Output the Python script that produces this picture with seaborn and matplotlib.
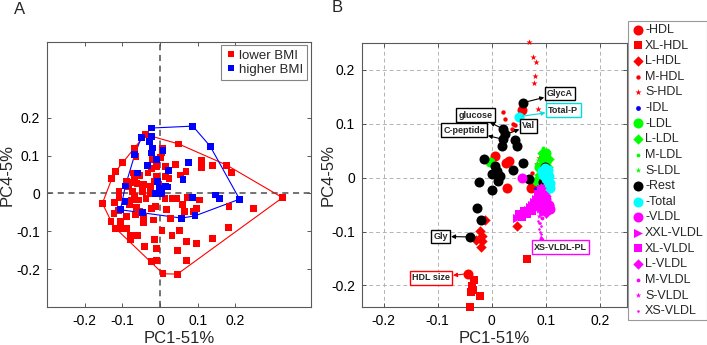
import numpy as np
import pandas as pd
import matplotlib
matplotlib.use("Agg")
import matplotlib.pyplot as plt
import seaborn as sns

# === Panel A: PCA scores, lower vs higher BMI ===
low_x = [-0.039, 0.049, -0.067, -0.064, -0.099, -0.118, -0.128, 0.007, 0.005, -0.020,
         -0.010, 0.001, 0.014, 0.042, 0.055, 0.069, 0.110, 0.111, 0.139, 0.177,
         0.189, 0.325, 0.249, 0.183, 0.181, 0.140, 0.096, 0.070, 0.046, 0.070,
         0.046, 0.008, -0.009, -0.022, -0.009, -0.041, -0.015, 0.005, 0.032, 0.052,
         -0.078, -0.078, -0.060, -0.090, -0.104, -0.118, -0.130, -0.106, -0.122, -0.110,
         -0.153, -0.121, -0.109, -0.109, -0.084, -0.089, -0.074, -0.071, -0.067, -0.054,
         -0.061, -0.043, -0.073, -0.067, -0.075, -0.080, -0.058, -0.063, -0.037, -0.046,
         -0.025, -0.025, -0.016, -0.010, -0.023, -0.032, -0.054, -0.065, -0.044, -0.043,
         -0.018, -0.023, -0.011, 0.013, 0.017, 0.027, 0.032, 0.045, 0.059, 0.066,
         0.089, 0.072, 0.085, 0.104, 0.096, -0.003, 0.014, -0.048, -0.088, 0.024]
low_y = [0.156, 0.131, 0.120, 0.098, 0.081, 0.058, 0.039, 0.120, 0.109, 0.089,
         0.072, 0.095, 0.045, 0.076, 0.049, 0.058, 0.088, 0.069, 0.075, 0.075,
         0.055, -0.011, -0.040, -0.035, -0.090, -0.118, -0.132, -0.127, -0.150, -0.176,
         -0.213, -0.212, -0.176, -0.180, -0.145, -0.139, -0.121, -0.098, -0.112, -0.098,
         -0.123, -0.112, -0.112, -0.092, -0.092, -0.092, -0.073, -0.074, -0.052, -0.044,
         -0.026, -0.023, -0.012, 0.005, 0.019, 0.032, 0.029, 0.054, 0.040, 0.048,
         0.026, 0.023, 0.006, -0.008, -0.017, -0.030, -0.017, -0.036, -0.014, 0.005,
         0.001, 0.019, 0.031, 0.044, 0.067, 0.054, -0.048, -0.057, -0.061, -0.077,
         -0.070, -0.039, -0.035, -0.013, -0.042, -0.065, -0.014, -0.014, -0.030, -0.048,
         -0.048, -0.010, -0.010, -0.017, -0.039, 0.024, 0.072, 0.012, -0.060, 0.040]

high_x = [-0.022, 0.087, 0.133, -0.050, -0.023, -0.029, -0.021, -0.023, 0.008, -0.067,
          -0.010, -0.034, 0.075, -0.060, 0.022, 0.061, -0.092, -0.006, -0.003, 0.014,
          0.021, -0.011, 0.003, -0.093, -0.105, -0.046, 0.057, 0.093, 0.087, 0.148,
          0.157, 0.211]
high_y = [0.173, 0.178, 0.125, 0.147, 0.151, 0.138, 0.120, 0.107, 0.113, 0.103,
          0.089, 0.073, 0.082, 0.054, 0.060, 0.036, 0.020, 0.032, 0.014, 0.019,
          0.017, -0.001, 0.001, -0.021, -0.043, -0.050, -0.065, -0.059, -0.011, -0.004,
          -0.013, -0.015]

bmi_labels = ["lower BMI", "higher BMI"]
bmi_colors = ["#FF0000", "#0000FF"]

# === Panel B: loadings, one entry per lipoprotein class ===
groups = [
    # label, marker, color, size, x, y
    ("-HDL", "o", "#FF0000", 52,
     [0.056, 0.006, 0.031, 0.027, 0.028, 0.076, -0.044, 0.072],
     [0.126, 0.040, 0.031, 0.028, -0.019, -0.014, -0.178, -0.020]),
    ("XL-HDL", "s", "#FF0000", 36,
     [0.065, -0.033, -0.036, -0.039, -0.022, -0.040, -0.035],
     [-0.151, -0.189, -0.201, -0.213, -0.219, -0.239, -0.208]),
    ("L-HDL", "D", "#FF0000", 28,
     [-0.012, -0.022, -0.018, -0.029, -0.018, -0.020, 0.047],
     [-0.078, -0.099, -0.108, -0.115, -0.117, -0.128, -0.089]),
    ("M-HDL", ".", "#FF0000", 40,
     [0.021, 0.025, 0.039, 0.043, 0.037, 0.074, 0.073],
     [0.121, 0.108, 0.099, 0.097, 0.090, 0.009, -0.018]),
    ("S-HDL", "*", "#FF0000", 22,
     [0.069, 0.076, 0.082, 0.080, 0.077, 0.086, 0.083, 0.087],
     [0.252, 0.224, 0.214, 0.188, 0.175, 0.128, 0.025, 0.037]),
    ("-IDL", "o", "#0000FF", 12,
     [0.082, 0.085, 0.100],
     [-0.022, -0.025, -0.010]),
    ("-LDL", "o", "#00FF00", 52,
     [-0.003, 0.083, 0.088, 0.095, 0.100],
     [0.029, -0.006, 0.020, 0.035, 0.045]),
    ("L-LDL", "D", "#00FF00", 28,
     [0.092, 0.098, 0.100, 0.095, 0.103, 0.090, 0.097, 0.105, 0.088],
     [0.045, 0.040, 0.030, 0.025, 0.020, 0.015, 0.008, 0.035, 0.005]),
    ("M-LDL", ".", "#00FF00", 30,
     [0.095, 0.098, 0.100, 0.093, 0.102, 0.090, 0.085],
     [0.055, 0.050, 0.052, 0.040, 0.045, 0.030, 0.020]),
    ("S-LDL", "*", "#00FF00", 18,
     [0.082, 0.086, 0.090, 0.095, 0.100, 0.105],
     [0.025, 0.032, 0.010, 0.000, 0.048, 0.028]),
    ("-Rest", "o", "#000000", 52,
     [0.058, 0.021, 0.025, 0.021, 0.042, 0.046, 0.018, -0.015, 0.006, 0.009,
      0.058, 0.040, 0.001, 0.015, 0.012, -0.023, 0.000, -0.028, -0.020, -0.040,
      0.098, 0.095, 0.069],
     [0.139, 0.090, 0.080, 0.071, 0.070, 0.059, 0.059, 0.034, 0.022, 0.012,
      0.028, 0.015, 0.006, 0.003, -0.006, -0.009, -0.023, -0.056, -0.079, -0.110,
      0.019, -0.009, -0.003]),
    ("-Total", "o", "#00FFFF", 52,
     [0.051, 0.098, 0.102, 0.105, 0.095, 0.100, 0.107, 0.100, 0.098, 0.103, 0.093, 0.108],
     [0.113, 0.018, 0.010, 0.003, 0.005, -0.002, -0.010, -0.020, -0.030, 0.015, 0.012, -0.020]),
    ("-VLDL", "o", "#FF00FF", 52,
     [0.055, 0.100, 0.105, 0.108, 0.102, 0.098],
     [0.000, -0.040, -0.050, -0.058, -0.060, -0.050]),
    ("XXL-VLDL", ">", "#FF00FF", 42,
     [0.047, 0.052, 0.057, 0.062, 0.066, 0.070, 0.074, 0.078, 0.082],
     [-0.075, -0.070, -0.068, -0.063, -0.060, -0.055, -0.050, -0.045, -0.040]),
    ("XL-VLDL", "s", "#FF00FF", 36,
     [0.050, 0.055, 0.060, 0.065, 0.070, 0.075, 0.080, 0.085, 0.090, 0.095, 0.100, 0.085, 0.090, 0.095],
     [-0.068, -0.073, -0.062, -0.068, -0.058, -0.062, -0.050, -0.055, -0.035, -0.045, -0.040, -0.030, -0.022, -0.060]),
    ("L-VLDL", "D", "#FF00FF", 28,
     [0.090, 0.095, 0.100, 0.105, 0.088, 0.095, 0.100],
     [-0.020, -0.028, -0.035, -0.050, -0.045, -0.060, -0.065]),
    ("M-VLDL", ".", "#FF00FF", 30,
     [0.085, 0.088, 0.090, 0.080, 0.092],
     [-0.030, -0.050, -0.068, -0.040, -0.075]),
    ("S-VLDL", "*", "#FF00FF", 18,
     [0.082, 0.086, 0.092, 0.088],
     [-0.035, -0.062, -0.052, -0.072]),
    ("XS-VLDL", ".", "#FF00FF", 14,
     [0.086, 0.087, 0.089, 0.090, 0.088, 0.089, 0.091, 0.090],
     [-0.080, -0.085, -0.084, -0.090, -0.095, -0.100, -0.105, -0.115]),
]

# label, point, box centre, colour
notes = [
    ("GlycA", (0.058, 0.139), (0.126, 0.156), "black"),
    ("Total-P", (0.051, 0.113), (0.132, 0.125), "#00DDDD"),
    ("glucose", (0.021, 0.090), (-0.030, 0.116), "black"),
    ("C-peptide", (0.021, 0.071), (-0.051, 0.088), "black"),
    ("Val", (0.026, 0.080), (0.068, 0.096), "black"),
    ("Gly", (-0.040, -0.110), (-0.094, -0.109), "black"),
    ("XS-VLDL-PL", (0.090, -0.112), (0.127, -0.129), "#FF00FF"),
    ("HDL size", (-0.044, -0.178), (-0.112, -0.186), "#FF0000"),
]

tick_vals = [-0.2, -0.1, 0, 0.1, 0.2]
tick_labels = ["-0.2", "-0.1", "0", "0.1", "0.2"]

# === Style ===
sns.set_style("ticks")
plt.rcParams["font.family"] = ["Liberation Sans", "DejaVu Sans"]
plt.rcParams["axes.unicode_minus"] = False

fig = plt.figure(figsize=(7.07, 3.45), dpi=100)
axA = fig.add_axes([0.0665, 0.110, 0.373, 0.768])
axB = fig.add_axes([0.512, 0.110, 0.375, 0.766])


def hull(xs, ys):
    pts = sorted(set(zip(xs, ys)))
    def cross(o, a, b):
        return (a[0] - o[0]) * (b[1] - o[1]) - (a[1] - o[1]) * (b[0] - o[0])
    lower, upper = [], []
    for p in pts:
        while len(lower) >= 2 and cross(lower[-2], lower[-1], p) <= 0:
            lower.pop()
        lower.append(p)
    for p in reversed(pts):
        while len(upper) >= 2 and cross(upper[-2], upper[-1], p) <= 0:
            upper.pop()
        upper.append(p)
    h = lower[:-1] + upper
    return [p[0] for p in h], [p[1] for p in h]


def style_axes(ax, ypad):
    ax.set_xticks(tick_vals)
    ax.set_xticklabels(tick_labels)
    ax.set_yticks(tick_vals)
    ax.set_yticklabels(tick_labels)
    ax.tick_params(direction="in", top=True, right=True, length=3, width=0.6,
                   labelsize=10, colors="0.25", labelcolor="black", pad=5)
    for sp in ax.spines.values():
        sp.set_visible(True)
        sp.set_color("0.35")
        sp.set_linewidth(0.8)
    ax.set_xlabel("PC1-51%", fontsize=12, labelpad=2)
    ax.set_ylabel("PC4-5%", fontsize=12, labelpad=ypad)


# --- Panel A ---
dfA = pd.concat([
    pd.DataFrame({"x": low_x, "y": low_y, "grupo": bmi_labels[0]}),
    pd.DataFrame({"x": high_x, "y": high_y, "grupo": bmi_labels[1]}),
], ignore_index=True)

axA.axhline(0, color="0.3", ls="--", lw=1.1, dashes=(4, 3), zorder=1)
axA.axvline(0, color="0.3", ls="--", lw=1.1, dashes=(4, 3), zorder=1)
for xs, ys, c in [(low_x, low_y, bmi_colors[0]), (high_x, high_y, bmi_colors[1])]:
    hx, hy = hull(xs, ys)
    axA.plot(hx, hy, color=c, lw=0.8, zorder=2)
sns.scatterplot(data=dfA, x="x", y="y", hue="grupo", palette=bmi_colors,
                marker="s", s=24, linewidth=0, ax=axA, zorder=3)
axA.set_xlim(-0.3, 0.4)
axA.set_ylim(-0.3, 0.4)
style_axes(axA, 1)
legA = axA.legend(loc="upper right", fontsize=9.5, frameon=True, fancybox=False,
                  borderaxespad=0.25, handletextpad=0.2, handlelength=0.9,
                  borderpad=0.3, labelspacing=0.15, markerscale=0.9)
legA.get_frame().set_edgecolor("0.4")
legA.get_frame().set_linewidth(0.8)

# --- Panel B ---
axB.grid(True, color="0.7", ls="--", lw=0.7, dashes=(4, 3))
axB.set_axisbelow(True)
for label, mk, c, s, xs, ys in groups:
    sns.scatterplot(x=xs, y=ys, marker=mk, color=c, s=s, linewidth=0,
                    ax=axB, label=label, zorder=3, clip_on=False)

for txt, pt, box, c in notes:
    axB.annotate(txt, xy=pt, xytext=box, fontsize=6.5, fontweight="bold",
                 ha="center", va="center", zorder=5,
                 bbox=dict(boxstyle="square,pad=0.25", fc="white", ec=c, lw=1.0),
                 arrowprops=dict(arrowstyle="<|-", color=c, lw=0.8,
                                 mutation_scale=6, shrinkA=0, shrinkB=2))

axB.set_xlim(-0.24, 0.25)
axB.set_ylim(-0.24, 0.25)
style_axes(axB, -3)
legB = axB.legend(loc="upper left", bbox_to_anchor=(1.004, 1.083), fontsize=9,
                  frameon=True, fancybox=False, borderaxespad=0, handletextpad=0.1,
                  handlelength=1.0, borderpad=0.25, labelspacing=0.29)
legB.get_frame().set_edgecolor("0.5")
legB.get_frame().set_linewidth(0.8)

fig.text(20 / 707, 1 - 9 / 345, "A", fontsize=12, ha="center", va="center")
fig.text(337 / 707, 1 - 8 / 345, "B", fontsize=12, ha="center", va="center")

fig.savefig("out.png", dpi=100)
